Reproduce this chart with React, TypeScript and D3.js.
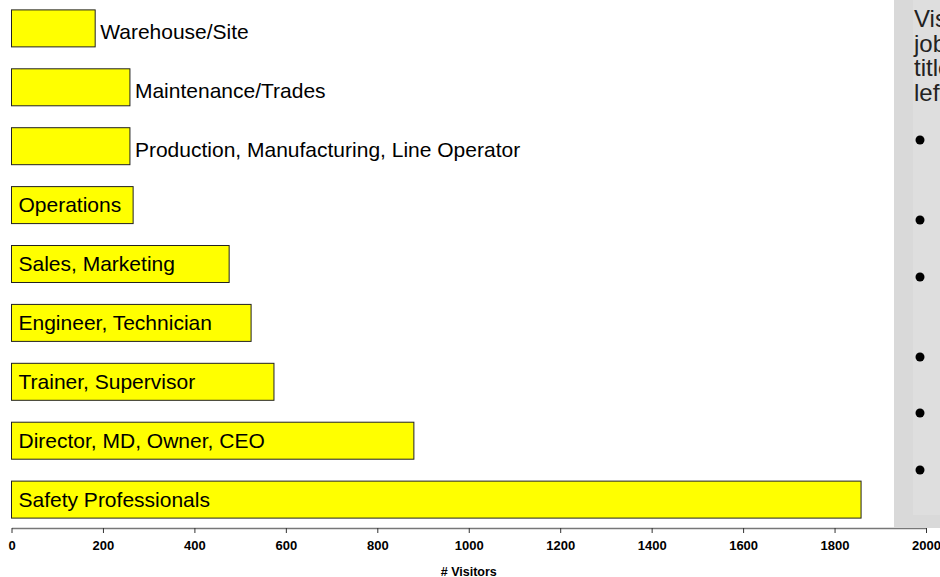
import React, { useEffect, useRef } from "react";
import * as d3 from "d3";

const categories = [
  "Warehouse/Site",
  "Maintenance/Trades",
  "Production, Manufacturing, Line Operator",
  "Operations",
  "Sales, Marketing",
  "Engineer, Technician",
  "Trainer, Supervisor",
  "Director, MD, Owner, CEO",
  "Safety Professionals",
];
const visitors = [183, 259, 259, 266, 476, 524, 574, 880, 1858];
const xTicks = [0, 200, 400, 600, 800, 1000, 1200, 1400, 1600, 1800, 2000];
const panelLines = ["Visitors by", "job", "title, see", "left"];
const bulletRows = [140, 220, 277, 357, 413, 470];

const width = 940;
const height = 577;
const left = 11.5;
const right = 926;
const axisY = 528;
const font = "'Liberation Sans', Arial, Helvetica, sans-serif";

const App = () => {
  const ref = useRef<SVGGElement>(null);

  useEffect(() => {
    const g = d3.select(ref.current);
    g.selectAll("*").remove();

    const data = categories.map((c, i) => ({ label: c, value: visitors[i] }));

    const x = d3.scaleLinear().domain([0, 2000]).range([left, right]);
    const y = d3
      .scaleBand()
      .domain(categories)
      .range([0, axisY])
      .paddingInner(0.372)
      .paddingOuter(0.168);

    // x axis (drawn first so the side panel sits over its end)
    const axis = g
      .append("g")
      .attr("transform", `translate(0,${axisY})`)
      .call(
        d3
          .axisBottom(x)
          .tickValues(xTicks)
          .tickFormat(d3.format("d"))
          .tickSize(5)
          .tickPadding(8)
          .tickSizeOuter(0)
      );
    axis.select(".domain").attr("stroke", "#777").attr("stroke-width", 1.5);
    axis.selectAll(".tick line").attr("stroke", "#333");
    axis
      .selectAll(".tick text")
      .attr("font-family", font)
      .attr("font-size", 13)
      .attr("font-weight", "bold")
      .attr("fill", "#000");

    g.append("text")
      .attr("x", (left + right) / 2)
      .attr("y", 575.5)
      .attr("text-anchor", "middle")
      .attr("font-family", font)
      .attr("font-size", 12.5)
      .attr("font-weight", "bold")
      .text("# Visitors");

    // bars
    const bars = g.selectAll("g.bar").data(data).enter().append("g").attr("class", "bar");

    bars
      .append("rect")
      .attr("x", x(0))
      .attr("y", (d) => y(d.label)!)
      .attr("width", (d) => x(d.value) - x(0))
      .attr("height", y.bandwidth())
      .attr("fill", "#ffff00")
      .attr("stroke", "#222")
      .attr("stroke-width", 1);

    bars
      .append("text")
      .attr("font-family", font)
      .attr("font-size", 21)
      .attr("fill", "#000")
      .text((d) => d.label)
      .each(function (d) {
        const t = d3.select(this);
        const w = (this as SVGTextElement).getComputedTextLength();
        const barW = x(d.value) - x(0);
        const cy = y(d.label)! + y.bandwidth() / 2;
        if (w + 14 < barW) {
          t.attr("x", x(0) + 7).attr("y", cy).attr("dy", "0.35em");
        } else {
          t.attr("x", x(d.value) + 5).attr("y", cy + 3).attr("dy", "0.35em");
        }
      });

    // side panel
    const panel = g.append("g");
    panel.append("rect").attr("x", 894).attr("y", 0).attr("width", 46).attr("height", 528).attr("fill", "#d9d9d9");
    panel.append("rect").attr("x", 913).attr("y", 0).attr("width", 27).attr("height", 515).attr("fill", "#dedede");
    panel
      .selectAll("text.line")
      .data(panelLines)
      .enter()
      .append("text")
      .attr("class", "line")
      .attr("x", 914)
      .attr("y", (d, i) => 27 + i * 24.5)
      .attr("font-family", font)
      .attr("font-size", 24)
      .attr("fill", "#222")
      .text((d) => d);
    panel
      .selectAll("circle")
      .data(bulletRows)
      .enter()
      .append("circle")
      .attr("cx", 920)
      .attr("cy", (d) => d)
      .attr("r", 4.5)
      .attr("fill", "#000");
  }, []);

  return (
    <div style={{ position: "fixed", left: 0, top: 0, width, height, background: "#fff" }}>
      <svg width={width} height={height} style={{ display: "block", overflow: "hidden" }}>
        <g ref={ref} />
      </svg>
    </div>
  );
};

export default App;
